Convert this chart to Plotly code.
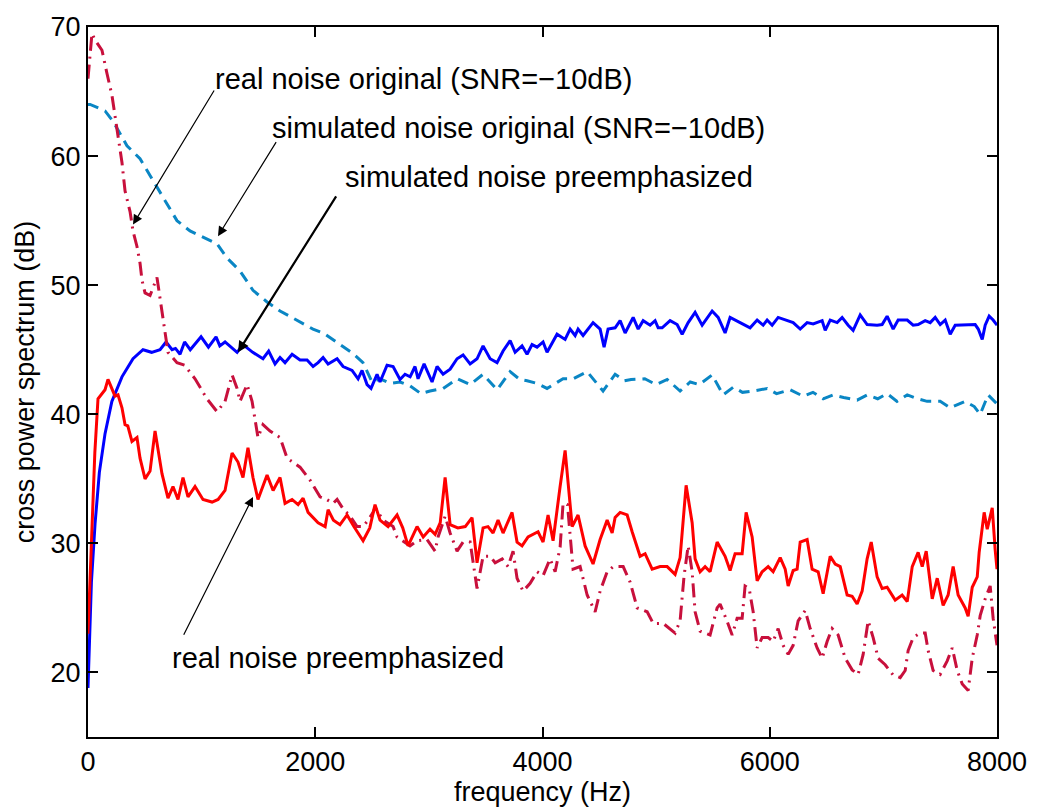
import plotly.graph_objects as go

# ---------------- data ----------------
sim_pre_f = [0, 30, 62, 100, 150, 210, 299, 396, 484, 560, 634, 687, 740, 770, 810, 850, 900, 995, 1060, 1127,
             1160, 1206, 1312, 1364, 1450, 1540, 1590, 1646, 1690, 1734, 1796, 1866, 1928, 1981, 2025, 2069, 2113,
             2192, 2245, 2324, 2377, 2412, 2456, 2491, 2544, 2570, 2632, 2685, 2746, 2790, 2835, 2878, 2905, 2958,
             3028, 3072, 3125, 3187, 3248, 3301, 3363, 3424, 3477, 3539, 3600, 3653, 3715, 3759, 3820, 3864, 3908,
             3952, 4005, 4040, 4128, 4199, 4243, 4287, 4313, 4357, 4445, 4507, 4542, 4577, 4639, 4683, 4727, 4798,
             4842, 4886, 4947, 4991, 5018, 5053, 5123, 5185, 5229, 5282, 5343, 5405, 5493, 5546, 5607, 5651, 5739,
             5827, 5889, 5942, 5977, 6021, 6074, 6136, 6206, 6268, 6329, 6382, 6461, 6488, 6532, 6593, 6637, 6690,
             6734, 6796, 6857, 6945, 6989, 7033, 7086, 7130, 7210, 7262, 7306, 7368, 7412, 7456, 7500, 7544, 7588,
             7632, 7702, 7764, 7808, 7835, 7870, 7896, 7931, 7966, 8000]
sim_pre_v = [18.8, 27.0, 31.5, 35.5, 38.5, 41.0, 42.9, 44.3, 45.0, 44.8, 45.0, 45.6, 45.0, 45.1, 44.65, 45.6, 45.0,
             46.0, 45.2, 46.0, 45.3, 45.6, 44.8, 45.4, 44.8, 44.3, 44.9, 43.9, 44.4, 44.0, 44.65, 44.2, 44.2, 43.7,
             44.0, 44.4, 43.9, 44.3, 43.7, 43.4, 42.75, 43.4, 42.3, 42.0, 43.1, 42.5, 43.8, 43.7, 42.7, 43.1, 42.9,
             43.7, 42.75, 43.9, 42.5, 43.7, 43.1, 43.5, 44.3, 44.6, 43.9, 44.3, 45.3, 44.3, 44.0, 44.9, 45.7, 44.8,
             45.3, 44.65, 45.4, 45.2, 45.6, 44.8, 46.2, 45.8, 46.6, 46.1, 46.6, 46.1, 47.1, 46.6, 45.2, 46.6, 46.7,
             47.25, 46.3, 47.5, 46.6, 47.25, 46.9, 47.25, 46.7, 46.7, 47.25, 46.95, 46.2, 47.1, 47.9, 46.9, 48.0,
             47.5, 46.3, 47.5, 47.1, 46.7, 47.3, 46.9, 47.3, 46.9, 47.5, 47.3, 47.1, 46.6, 47.1, 47.0, 47.25, 46.5,
             47.3, 47.1, 47.5, 46.9, 46.5, 47.7, 46.95, 46.9, 46.95, 47.6, 46.6, 47.3, 47.3, 46.9, 46.95, 47.25,
             47.1, 47.5, 46.95, 47.3, 46.2, 46.9, 46.9, 46.9, 46.95, 46.6, 45.8, 46.9, 47.6, 47.3, 46.9]

sim_orig_f = [0, 18, 150, 220, 343, 458, 607, 783, 898, 1136, 1224, 1338, 1452, 1576, 1690, 1893, 1980, 2070, 2218,
              2333, 2420, 2500, 2570, 2660, 2746, 2835, 2930, 3010, 3125, 3250, 3363, 3477, 3600, 3715, 3800, 3864,
              3950, 4040, 4181, 4270, 4393, 4533, 4639, 4720, 4780, 4900, 5000, 5097, 5211, 5300, 5380, 5493, 5590,
              5680, 5760, 5854, 5977, 6060, 6180, 6294, 6380, 6470, 6560, 6650, 6769, 6857, 6950, 7033, 7120, 7210,
              7300, 7385, 7500, 7588, 7720, 7800, 7852, 7922, 8000]
sim_orig_v = [64.0, 64.0, 63.5, 62.7, 60.8, 59.8, 57.6, 55.0, 54.2, 53.2, 52.1, 51.1, 49.6, 48.7, 48.0, 47.0, 46.6,
              46.3, 45.4, 44.7, 44.0, 42.5, 42.75, 42.4, 42.5, 42.2, 41.6, 41.8, 42.0, 42.75, 42.3, 43.1, 41.9, 43.3,
              42.7, 42.6, 42.4, 42.0, 42.75, 42.75, 43.3, 41.8, 43.1, 42.6, 42.7, 42.75, 42.3, 42.7, 41.8, 42.5, 42.3,
              43.05, 41.5, 42.1, 41.7, 41.8, 42.0, 41.6, 41.9, 41.4, 41.7, 41.2, 41.5, 41.3, 41.1, 41.5, 41.2, 41.6,
              41.0, 41.5, 41.2, 41.0, 41.0, 40.5, 41.0, 40.6, 40.0, 41.5, 40.8]

real_pre_f = [0, 35, 60, 88, 123, 150, 176, 211, 238, 264, 299, 326, 350, 387, 431, 458, 502, 546, 590, 651, 704,
              748, 792, 836, 880, 942, 1012, 1092, 1145, 1206, 1268, 1320, 1364, 1408, 1452, 1496, 1576, 1629, 1690,
              1734, 1796, 1849, 1893, 1937, 2025, 2087, 2113, 2160, 2218, 2280, 2340, 2421, 2480, 2526, 2570, 2641,
              2720, 2770, 2817, 2896, 2950, 3010, 3055, 3100, 3143, 3187, 3255, 3320, 3380, 3424, 3477, 3520, 3565,
              3609, 3653, 3732, 3776, 3820, 3873, 3961, 4005, 4049, 4093, 4155, 4199, 4261, 4313, 4375, 4445, 4507,
              4569, 4613, 4639, 4683, 4745, 4789, 4859, 4903, 4965, 5035, 5097, 5167, 5211, 5264, 5317, 5343, 5387,
              5431, 5475, 5537, 5607, 5651, 5695, 5757, 5792, 5845, 5889, 5933, 5986, 6030, 6092, 6136, 6162, 6206,
              6241, 6268, 6329, 6373, 6426, 6470, 6532, 6576, 6620, 6681, 6725, 6769, 6813, 6857, 6893, 6945, 6989,
              7033, 7104, 7165, 7210, 7254, 7306, 7342, 7377, 7430, 7474, 7526, 7570, 7614, 7658, 7720, 7746, 7782,
              7826, 7843, 7887, 7914, 7958, 7984, 8000]
real_pre_v = [23.0, 31.1, 37.0, 41.2, 41.6, 41.9, 42.7, 41.9, 41.4, 41.5, 40.5, 39.2, 39.1, 37.9, 38.2, 36.6, 35.0,
              35.6, 38.7, 35.4, 33.5, 34.4, 33.4, 35.1, 33.6, 34.4, 33.4, 33.2, 33.4, 34.1, 37.0, 36.3, 35.1, 37.4,
              35.1, 33.4, 35.3, 34.1, 35.1, 33.1, 33.4, 33.0, 33.5, 32.4, 31.6, 31.3, 32.6, 31.8, 31.45, 32.2, 31.3,
              30.2, 31.2, 33.0, 31.8, 31.3, 32.2, 31.2, 29.8, 31.3, 30.5, 31.1, 30.7, 31.6, 35.1, 31.45, 31.2, 31.3,
              32.0, 28.5, 31.2, 31.3, 30.8, 31.8, 30.8, 32.4, 30.1, 29.8, 30.5, 30.9, 30.1, 32.2, 30.2, 34.4, 37.2,
              31.3, 32.2, 29.8, 28.4, 30.3, 31.8, 30.8, 32.0, 32.4, 32.2, 30.9, 29.0, 29.2, 28.0, 28.2, 28.2, 27.6,
              28.9, 34.5, 31.6, 28.8, 27.8, 28.2, 27.8, 30.1, 29.0, 27.9, 29.2, 29.2, 32.4, 30.5, 27.1, 27.8, 28.2,
              27.8, 28.9, 28.0, 26.7, 27.9, 28.0, 30.1, 30.3, 28.0, 27.8, 26.1, 29.0, 28.4, 28.2, 26.0, 25.9, 25.3,
              26.3, 28.8, 30.1, 27.4, 26.5, 26.6, 25.6, 26.0, 25.5, 28.2, 29.3, 28.2, 29.4, 25.7, 27.3, 25.2, 26.0,
              28.2, 26.0, 25.0, 24.35, 26.6, 27.4, 29.3, 32.4, 31.1, 32.75, 29.5, 28.0]

real_orig_f = [0, 35, 62, 123, 167, 211, 255, 299, 326, 370, 396, 431, 458, 475, 502, 546, 607, 630, 651, 704, 783,
               850, 942, 1047, 1136, 1206, 1268, 1312, 1338, 1400, 1444, 1496, 1540, 1602, 1690, 1752, 1866, 1954,
               2042, 2100, 2157, 2192, 2250, 2300, 2368, 2421, 2465, 2509, 2526, 2597, 2685, 2720, 2834, 2896, 2984,
               3055, 3081, 3143, 3187, 3248, 3301, 3363, 3424, 3477, 3539, 3583, 3645, 3697, 3741, 3776, 3829, 3891,
               3952, 4005, 4067, 4111, 4155, 4181, 4220, 4243, 4269, 4331, 4393, 4463, 4507, 4569, 4622, 4710, 4771,
               4833, 4921, 4974, 5062, 5167, 5211, 5246, 5282, 5317, 5343, 5387, 5475, 5537, 5563, 5625, 5669, 5713,
               5757, 5783, 5819, 5854, 5889, 5933, 5986, 6030, 6074, 6118, 6162, 6206, 6250, 6312, 6356, 6417, 6461,
               6505, 6549, 6602, 6664, 6725, 6778, 6822, 6866, 6910, 6954, 7016, 7086, 7148, 7192, 7218, 7262, 7324,
               7368, 7394, 7438, 7500, 7562, 7606, 7650, 7694, 7746, 7782, 7826, 7852, 7896, 7940, 7966, 8000]
real_orig_v = [66.0, 69.5, 69.0, 68.2, 66.4, 64.7, 62.1, 59.5, 57.3, 55.7, 54.2, 53.0, 51.7, 50.4, 49.4, 49.2, 50.6,
               49.2, 47.9, 44.8, 44.0, 43.8, 42.75, 41.2, 40.2, 41.0, 43.05, 42.0, 41.0, 42.3, 41.0, 38.2, 39.2, 38.7,
               38.2, 36.6, 35.9, 34.9, 33.6, 33.4, 33.1, 33.4, 32.6, 32.2, 31.3, 31.3, 31.8, 32.4, 32.8, 31.8, 31.3,
               30.5, 29.8, 30.2, 30.3, 29.4, 30.5, 32.1, 30.8, 29.4, 30.1, 30.1, 26.5, 29.0, 29.0, 28.5, 28.8, 28.2,
               29.4, 27.3, 26.3, 26.9, 27.8, 27.5, 28.8, 27.8, 29.7, 33.1, 33.0, 30.5, 28.0, 28.2, 26.0, 24.7, 26.3,
               27.8, 28.2, 28.2, 27.0, 25.0, 24.7, 23.8, 23.8, 23.05, 24.0, 27.5, 29.8, 27.8, 24.7, 23.2, 22.9, 25.0,
               25.3, 23.95, 22.9, 24.2, 24.2, 26.7, 26.5, 24.7, 21.9, 22.7, 22.7, 22.4, 23.4, 22.1, 21.4, 22.1, 24.0,
               24.8, 23.4, 21.9, 21.1, 22.4, 23.4, 22.9, 21.1, 20.2, 19.85, 21.4, 24.0, 22.7, 21.1, 20.6, 19.8, 19.6,
               20.15, 21.7, 22.7, 23.05, 23.05, 21.7, 20.15, 19.85, 20.9, 21.9, 20.15, 19.1, 18.6, 21.1, 22.9, 24.4,
               25.7, 26.7, 24.2, 22.1]

x_ticks = [0, 2000, 4000, 6000, 8000]
y_ticks = [20, 30, 40, 50, 60, 70]

labels = ["real noise original (SNR=\u221210dB)",
          "simulated noise original (SNR=\u221210dB)",
          "simulated noise preemphasized",
          "real noise preemphasized"]

FONT = "Liberation Sans, Arial, Helvetica, sans-serif"

fig = go.Figure()
fig.add_trace(go.Scatter(x=sim_orig_f, y=sim_orig_v, mode="lines",
                         line=dict(color="#0a86c4", width=3, dash="11px,7px"), hoverinfo="skip"))
fig.add_trace(go.Scatter(x=sim_pre_f, y=sim_pre_v, mode="lines",
                         line=dict(color="#0000ff", width=3), hoverinfo="skip"))
fig.add_trace(go.Scatter(x=real_orig_f, y=real_orig_v, mode="lines",
                         line=dict(color="#c8103c", width=3, dash="14px,6px,2px,6px"), hoverinfo="skip"))
fig.add_trace(go.Scatter(x=real_pre_f, y=real_pre_v, mode="lines",
                         line=dict(color="#ff0000", width=3), hoverinfo="skip"))

# arrows (head at x,y; tail at ax,ay in data units)
arrows = [
    dict(x=396, y=54.7, ax=1118, ay=65.2, w=1.2, size=1.6),
    dict(x=1144, y=53.8, ax=1664, ay=61.2, w=1.2, size=1.6),
    dict(x=1320, y=44.8, ax=2192, ay=57.0, w=2.2, size=1.0),
    dict(x=1452, y=33.6, ax=836, ay=22.8, w=1.2, size=1.6),
]
for a in arrows:
    fig.add_annotation(x=a["x"], y=a["y"], ax=a["ax"], ay=a["ay"], xref="x", yref="y",
                       axref="x", ayref="y", text="", showarrow=True, arrowhead=2,
                       arrowsize=a["size"], arrowwidth=a["w"], arrowcolor="black")

text_pos = [(1100, 66.0), (1602, 62.2), (2245, 58.4), (722, 21.1)]
for (tx, ty), lab in zip(text_pos, labels):
    fig.add_annotation(x=tx, y=ty, xref="x", yref="y", text=lab, showarrow=False,
                       xanchor="left", yanchor="middle", font=dict(family=FONT, size=29, color="black"))

axis_common = dict(showline=True, linecolor="black", linewidth=2, mirror="ticks", ticks="inside",
                   ticklen=10, tickwidth=2, tickcolor="black", showgrid=False, zeroline=False,
                   tickfont=dict(family=FONT, size=27, color="black"))

fig.update_layout(
    width=1039, height=812,
    margin=dict(l=88, r=42, t=20, b=72),
    paper_bgcolor="white", plot_bgcolor="white",
    showlegend=False,
    xaxis=dict(range=[0, 8000], tickvals=x_ticks, ticktext=[str(t) for t in x_ticks],
               title=dict(text="frequency (Hz)", font=dict(family=FONT, size=27, color="black"), standoff=4),
               **axis_common),
    yaxis=dict(range=[15, 70], tickvals=y_ticks, ticktext=[str(t) for t in y_ticks],
               title=dict(text="cross power spectrum (dB)", font=dict(family=FONT, size=27, color="black"), standoff=8),
               **axis_common),
)

fig.write_html("out.html")
